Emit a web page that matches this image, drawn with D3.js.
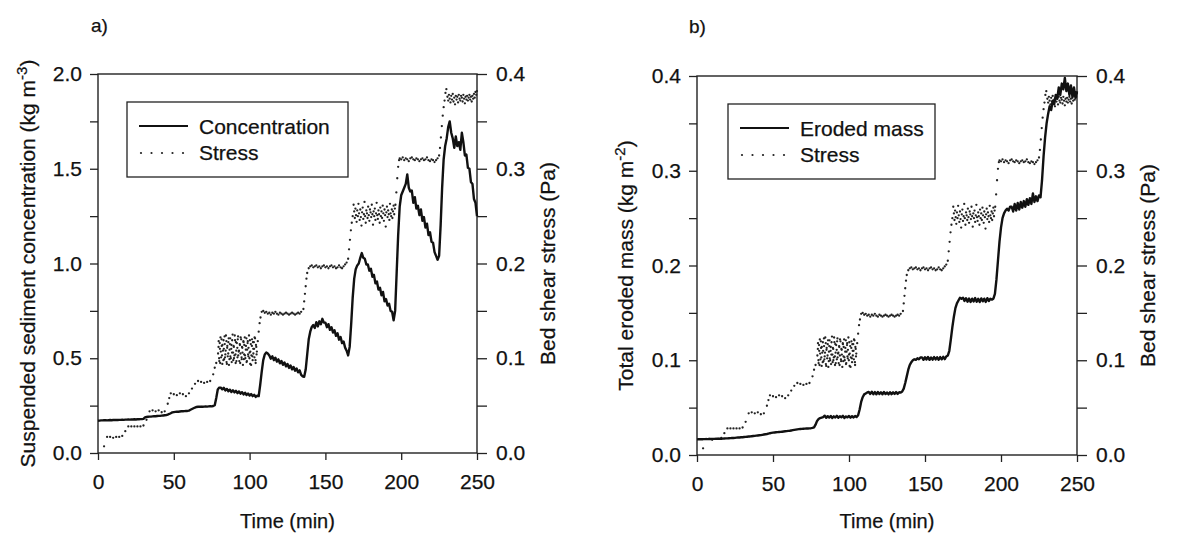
<!DOCTYPE html>
<html lang="en">
<head>
    <meta charset="utf-8">
    <title>erosion_run</title>
    <script src="https://d3js.org/d3.v7.min.js"></script>
    <style type="text/css">
        body { margin: 0; background: #fff; }
        text { font-family: "Liberation Sans", Arial, Helvetica, sans-serif; fill: #111; stroke: #111; stroke-width: 0.25px; }
    </style>
</head>
<body>
<script type="text/javascript">

    // Values. Concentration and eroded mass are one value per minute (index = time).
    var timeTicks = [0, 50, 100, 150, 200, 250];
    var concTicks = [0, 0.5, 1.0, 1.5, 2.0];
    var concMinor = [0.25, 0.75, 1.25, 1.75];
    var massTicks = [0, 0.1, 0.2, 0.3, 0.4];
    var massMinor = [0.05, 0.15, 0.25, 0.35];
    var stressTicks = [0, 0.1, 0.2, 0.3, 0.4];
    var stressMinor = [0.05, 0.15, 0.25, 0.35];

    // a) suspended sediment concentration (kg m-3), t = 0..250 min
    var concentration = [
        0.170,0.171,0.172,0.172,0.173,0.173,0.172,0.173,0.174,0.173,0.174,0.174,0.175,0.174,0.175,0.175,
        0.176,0.175,0.176,0.176,0.177,0.176,0.177,0.177,0.178,0.177,0.178,0.178,0.179,0.179,0.180,
        0.188,0.190,0.191,0.192,0.192,0.193,0.194,0.194,0.195,0.196,0.196,0.197,0.198,0.199,0.200,
        0.203,0.206,0.210,0.214,0.216,0.217,0.218,0.218,0.219,0.220,0.220,0.221,0.222,0.222,0.224,
        0.228,0.232,0.236,0.240,0.243,0.244,0.244,0.245,0.244,0.245,0.246,0.245,0.246,0.247,0.246,0.248,0.252,
        0.290,0.335,0.345,
        0.345,0.336,0.344,0.330,0.338,0.326,0.334,0.322,0.331,0.320,0.328,0.316,0.325,0.313,0.321,0.309,
        0.318,0.306,0.314,0.303,0.311,0.300,0.307,0.296,0.302,
        0.300,0.360,0.430,0.490,0.520,0.530,0.525,
        0.515,0.498,0.510,0.490,0.503,0.482,0.494,0.473,0.486,0.465,0.478,0.457,0.470,0.449,0.462,0.441,
        0.454,0.434,0.446,0.426,0.436,0.412,0.405,
        0.402,0.440,0.520,0.600,0.640,0.665,0.675,0.660,0.690,0.668,0.695,0.680,0.708,0.688,
        0.688,0.664,0.680,0.650,0.664,0.636,0.648,0.618,0.632,0.598,0.612,0.580,0.588,0.556,0.540,0.515,
        0.560,0.680,0.820,0.920,0.970,0.990,1.000,1.030,1.055,1.030,1.025,0.995,
        0.995,0.962,0.972,0.930,0.940,0.895,0.905,0.862,0.872,0.832,0.850,0.800,0.812,0.778,0.788,0.750,0.745,0.700,
        0.750,0.950,1.150,1.300,1.360,1.380,1.400,1.420,1.470,1.400,1.380,
        1.385,1.320,1.350,1.290,1.305,1.255,1.285,1.225,1.245,1.190,1.210,1.150,1.165,1.115,1.110,1.060,1.040,1.020,
        1.040,1.200,1.400,1.550,1.620,1.660,1.720,1.750,1.690,1.660,1.610,1.670,1.620,1.640,1.600,1.690,
        1.640,1.570,1.575,1.505,1.500,1.430,1.420,1.340,1.320,1.250
    ];

    // b) total eroded mass (kg m-2), t = 0..250 min
    var erodedMass = [
        0.0165,0.0166,0.0166,0.0167,0.0167,0.0168,0.0168,0.0168,0.0169,0.0169,0.0170,0.0170,0.0170,0.0171,0.0171,0.0172,
        0.0172,0.0173,0.0174,0.0175,0.0176,0.0177,0.0178,0.0179,0.0180,0.0181,0.0183,0.0184,0.0185,0.0187,0.0188,0.0190,
        0.0191,0.0193,0.0195,0.0196,0.0198,0.0200,0.0202,0.0204,0.0206,0.0208,0.0210,0.0213,0.0216,0.0219,0.0222,0.0226,
        0.0230,0.0233,0.0236,
        0.0238,0.0240,0.0241,0.0243,0.0244,0.0246,0.0248,0.0250,0.0252,0.0254,0.0256,0.0259,0.0262,0.0265,0.0268,0.0271,
        0.0273,0.0275,0.0276,0.0277,0.0278,0.0279,0.0280,0.0281,0.0283,0.0286,0.0292,
        0.032,0.036,0.038,0.039,0.0395,
        0.0400,0.0415,0.0392,0.0410,0.0395,0.0412,0.0390,0.0408,0.0396,0.0414,0.0393,0.0409,0.0398,0.0413,0.0391,0.0407,
        0.0397,0.0412,0.0394,0.0410,0.0396,0.0411,0.0400,
        0.042,0.048,0.056,0.061,0.064,0.065,0.066,
        0.0665,0.0645,0.0668,0.0642,0.0664,0.0640,0.0666,0.0644,0.0662,0.0641,0.0665,0.0643,0.0660,0.0640,0.0663,0.0642,
        0.0661,0.0644,0.0664,0.0645,0.0662,0.0658,0.0670,
        0.070,0.076,0.083,0.090,0.095,0.098,0.100,0.101,0.1005,0.102,0.101,0.103,
        0.1030,0.1005,0.1032,0.1008,0.1035,0.1004,0.1030,0.1006,0.1034,0.1009,0.1031,0.1005,0.1033,0.1010,0.1036,0.1012,
        0.1040,0.1050,
        0.110,0.122,0.135,0.146,0.155,0.160,0.163,0.166,0.165,
        0.1660,0.1625,0.1655,0.1618,0.1652,0.1615,0.1650,0.1620,0.1656,0.1617,0.1648,0.1614,0.1653,0.1622,0.1650,0.1616,
        0.1655,0.1625,0.1650,0.1640,0.1650,
        0.170,0.185,0.205,0.225,0.240,0.250,0.255,0.258,0.260,0.258,0.262,
        0.262,0.257,0.265,0.258,0.266,0.259,0.267,0.261,0.268,0.262,0.270,0.264,0.271,0.265,0.276,0.267,0.273,0.268,0.274,0.272,
        0.290,0.315,0.335,0.350,0.360,0.368,0.364,0.374,0.370,0.380,0.376,0.388,0.380,0.392,0.386,0.398,
        0.384,0.392,0.380,0.390,0.378,0.388,0.377,0.384
    ];

    // bed shear stress (Pa) as [time (min), value]; same run is plotted in both panels
    var stress = [
        [4,0.007],
        [6,0.017],[8,0.017],[10,0.016],[12,0.017],[14,0.017],[16,0.018],
        [18,0.023],
        [20,0.028],[22,0.028],[24,0.028],[26,0.028],[28,0.028],[30,0.029],
        [32,0.035],
        [34,0.044],[36,0.045],[38,0.044],[40,0.045],[42,0.043],[44,0.044],
        [46,0.052],[47,0.058],
        [48,0.063],[50,0.062],[52,0.061],[54,0.063],[56,0.062],[58,0.060],[60,0.063],
        [62,0.068],[64,0.073],[66,0.076],[68,0.075],[70,0.074],[72,0.075],[74,0.076],
        [76,0.083],[77,0.090],[78,0.095],
        [79.2,0.105],[79.6,0.118],[80.0,0.097],[80.4,0.110],[80.8,0.122],[81.2,0.101],[81.6,0.113],[82.0,0.094],
        [82.4,0.108],[82.8,0.119],[83.2,0.099],[83.6,0.115],[84.0,0.104],[84.4,0.124],[84.8,0.096],[85.2,0.111],
        [85.6,0.102],[86.0,0.117],[86.4,0.093],[86.8,0.109],[87.2,0.121],[87.6,0.100],[88.0,0.114],[88.4,0.106],
        [88.8,0.125],[89.2,0.098],[89.6,0.112],[90.0,0.103],[90.4,0.119],[90.8,0.095],[91.2,0.108],[91.6,0.116],
        [92.0,0.101],[92.4,0.123],[92.8,0.107],[93.2,0.097],[93.6,0.114],[94.0,0.105],[94.4,0.120],[94.8,0.099],
        [95.2,0.111],[95.6,0.093],[96.0,0.117],[96.4,0.104],[96.8,0.122],[97.2,0.100],[97.6,0.113],[98.0,0.096],
        [98.4,0.109],[98.8,0.118],[99.2,0.102],[99.6,0.124],[100.0,0.106],[100.4,0.094],[100.8,0.115],[101.2,0.103],
        [101.6,0.120],[102.0,0.098],[102.4,0.110],[102.8,0.117],[103.2,0.101],[103.6,0.121],[104.0,0.095],[104.4,0.112],
        [104.8,0.107],
        [79.5,0.112],[79.9,0.100],[80.3,0.116],[80.6,0.095],[81.0,0.107],[81.5,0.120],[81.8,0.103],[82.1,0.114],
        [82.7,0.098],[83.0,0.110],[83.5,0.123],[83.8,0.101],[84.2,0.108],[84.7,0.118],[85.0,0.094],[85.3,0.113],
        [85.9,0.105],[86.2,0.121],[86.7,0.099],[87.0,0.115],[87.3,0.102],[87.9,0.110],[88.2,0.096],[88.5,0.119],
        [89.1,0.106],[89.4,0.113],[89.7,0.100],[90.2,0.124],[90.7,0.104],[91.0,0.117],[91.3,0.097],[91.9,0.111],
        [92.2,0.120],[92.5,0.103],[93.0,0.108],[93.5,0.115],[93.8,0.095],[94.1,0.122],[94.7,0.101],[95.0,0.112],
        [95.3,0.106],[95.9,0.118],[96.2,0.099],[96.5,0.114],[97.0,0.103],[97.5,0.109],[97.9,0.121],[98.2,0.097],
        [98.7,0.116],[99.0,0.104],[99.3,0.111],[99.9,0.100],[100.2,0.119],[100.5,0.107],[101.0,0.093],[101.5,0.113],
        [101.9,0.102],[102.2,0.117],[102.5,0.105],[103.0,0.110],[103.3,0.122],[103.9,0.098],[104.2,0.114],[104.6,0.104],
        [105.4,0.118],[106,0.128],[106.6,0.137],[107.2,0.143],
        [108,0.149],[109,0.150],[110,0.148],[111,0.149],[112,0.147],[113,0.148],[114,0.146],[115,0.148],[116,0.147],
        [117,0.149],[118,0.147],[119,0.146],[120,0.148],[121,0.147],[122,0.146],[123,0.147],[124,0.148],[125,0.147],
        [126,0.146],[127,0.147],[128,0.148],[129,0.147],[130,0.146],[131,0.147],[132,0.148],[133,0.147],[134,0.149],
        [135.5,0.152],[136,0.160],[136.5,0.168],[137,0.176],[137.5,0.184],[138,0.190],[139,0.195],
        [140,0.197],[141,0.198],[142,0.196],[143,0.197],[144,0.198],[145,0.196],[146,0.197],[147,0.195],[148,0.197],
        [149,0.198],[150,0.196],[151,0.197],[152,0.195],[153,0.197],[154,0.198],[155,0.196],[156,0.197],[157,0.195],
        [158,0.196],[159,0.198],[160,0.196],[161,0.195],[162,0.197],[163,0.199],[164,0.201],
        [165,0.205],[165.6,0.215],[166.2,0.225],[166.8,0.235],[167.4,0.243],[168,0.250],
        [168.6,0.262],[169.0,0.255],[169.4,0.248],[169.8,0.258],[170.2,0.251],[170.6,0.244],[171.0,0.256],[171.4,0.250],
        [171.8,0.263],[172.2,0.253],[172.6,0.246],[173.0,0.257],[173.4,0.249],[173.8,0.240],[174.2,0.254],[174.6,0.259],
        [175.0,0.247],[175.4,0.252],[175.8,0.265],[176.2,0.250],[176.6,0.243],[177.0,0.256],[177.4,0.253],[177.8,0.248],
        [178.2,0.260],[178.6,0.251],[179.0,0.245],[179.4,0.257],[179.8,0.254],[180.2,0.249],[180.6,0.262],[181.0,0.252],
        [181.4,0.241],[181.8,0.255],[182.2,0.250],[182.6,0.258],[183.0,0.246],[183.4,0.253],[183.8,0.264],[184.2,0.251],
        [184.6,0.247],[185.0,0.256],[185.4,0.252],[185.8,0.243],[186.2,0.259],[186.6,0.250],[187.0,0.255],[187.4,0.248],
        [187.8,0.261],[188.2,0.253],[188.6,0.245],[189.0,0.257],[189.4,0.251],[189.8,0.239],[190.2,0.254],[190.6,0.260],
        [191.0,0.249],[191.4,0.256],[191.8,0.252],[192.2,0.246],[192.6,0.263],[193.0,0.253],[193.4,0.250],[193.8,0.257],
        [194.2,0.248],[194.6,0.255],[195.0,0.261],[195.4,0.252],[195.8,0.258],
        [196.2,0.262],[196.8,0.275],[197.4,0.290],[198,0.302],[198.6,0.309],
        [199,0.311],[200,0.310],[201,0.312],[202,0.309],[203,0.311],[204,0.310],[205,0.308],[206,0.311],[207,0.312],
        [208,0.310],[209,0.309],[210,0.311],[211,0.310],[212,0.308],[213,0.310],[214,0.311],[215,0.309],[216,0.310],
        [217,0.312],[218,0.309],[219,0.308],[220,0.310],[221,0.309],[222,0.307],[223,0.309],[224,0.311],[225,0.314],
        [225.6,0.322],[226.2,0.333],[226.8,0.345],[227.4,0.356],[228,0.365],[228.6,0.372],[229.2,0.380],[229.8,0.384],
        [230.5,0.376],[231,0.372],[231.5,0.378],[232,0.374],[232.5,0.370],[233,0.377],[233.5,0.373],[234,0.379],
        [234.5,0.371],[235,0.375],[235.5,0.368],[236,0.377],[236.5,0.373],[237,0.376],[237.5,0.370],[238,0.378],
        [238.5,0.374],[239,0.372],[239.5,0.377],[240,0.375],[240.5,0.371],[241,0.378],[241.5,0.374],[242,0.369],
        [242.5,0.376],[243,0.373],[243.5,0.377],[244,0.372],[244.5,0.375],[245,0.378],[245.5,0.373],[246,0.376],
        [246.5,0.371],[247,0.377],[247.5,0.374],[248,0.379],[248.5,0.375],[249,0.381],[249.5,0.378],[250,0.382]
    ];

    var svg = d3.select("body")
        .append("svg")
        .attr("width", 1186)
        .attr("height", 544);

    var panels = [
        {
            tag: "a)", tagX: 91, tagY: 32,
            left: 98, right: 477, top: 74, bottom: 453,
            leftDomain: [0, 2.0], leftTicks: concTicks, leftMinor: concMinor,
            leftTitle: "Suspended sediment concentration (kg m", leftSup: "-3", leftTitleX: 28,
            rightTitleX: 548,
            series: concentration, seriesName: "Concentration",
            legend: { x: 127, y: 102, w: 221, h: 75 }
        },
        {
            tag: "b)", tagX: 689, tagY: 33,
            left: 697, right: 1077, top: 76, bottom: 455,
            leftDomain: [0, 0.4], leftTicks: massTicks, leftMinor: massMinor,
            leftTitle: "Total eroded mass (kg m", leftSup: "-2", leftTitleX: 626,
            rightTitleX: 1148,
            series: erodedMass, seriesName: "Eroded mass",
            legend: { x: 728, y: 104, w: 207, h: 75 }
        }
    ];

    function styleAxis(g, size) {
        g.select(".domain").remove();
        g.selectAll("line").attr("stroke", "#222").attr("stroke-width", 1.3);
        g.selectAll("text")
            .attr("font-family", "Liberation Sans, Arial, sans-serif")
            .attr("font-size", size)
            .attr("fill", "#111");
    }

    panels.forEach(function (p) {
        var x = d3.scaleLinear().domain([0, 250]).range([p.left, p.right]);
        var yL = d3.scaleLinear().domain(p.leftDomain).range([p.bottom, p.top]);
        var yR = d3.scaleLinear().domain([0, 0.4]).range([p.bottom, p.top]);
        var fmt = d3.format(".1f");

        // bottom axis
        svg.append("g")
            .attr("transform", "translate(0," + p.bottom + ")")
            .call(d3.axisBottom(x).tickValues(timeTicks).tickSize(7).tickPadding(14).tickFormat(d3.format("d")))
            .call(styleAxis, 21);

        // left axis, labelled and minor ticks
        svg.append("g")
            .attr("transform", "translate(" + p.left + ",0)")
            .call(d3.axisLeft(yL).tickValues(p.leftTicks).tickSize(8).tickPadding(8).tickFormat(fmt))
            .call(styleAxis, 21);
        svg.append("g")
            .attr("transform", "translate(" + p.left + ",0)")
            .call(d3.axisLeft(yL).tickValues(p.leftMinor).tickSize(8).tickFormat(""))
            .call(styleAxis, 21);

        // right axis (stress)
        svg.append("g")
            .attr("transform", "translate(" + p.right + ",0)")
            .call(d3.axisRight(yR).tickValues(stressTicks).tickSize(10).tickPadding(9).tickFormat(fmt))
            .call(styleAxis, 21);
        svg.append("g")
            .attr("transform", "translate(" + p.right + ",0)")
            .call(d3.axisRight(yR).tickValues(stressMinor).tickSize(10).tickFormat(""))
            .call(styleAxis, 21);

        // frame
        svg.append("rect")
            .attr("x", p.left)
            .attr("y", p.top)
            .attr("width", p.right - p.left)
            .attr("height", p.bottom - p.top)
            .attr("fill", "none")
            .attr("stroke", "#222")
            .attr("stroke-width", 1.4);

        // stress dots
        svg.append("g")
            .selectAll("circle")
            .data(stress)
            .enter()
            .append("circle")
            .attr("cx", d => x(d[0]))
            .attr("cy", d => yR(d[1]))
            .attr("r", 1.15)
            .attr("fill", "#222");

        // main series
        var line = d3.line()
            .x((d, i) => x(i))
            .y(d => yL(d));
        svg.append("path")
            .datum(p.series)
            .attr("d", line)
            .attr("fill", "none")
            .attr("stroke", "#111")
            .attr("stroke-width", 2.4)
            .attr("stroke-linejoin", "round");

        // legend
        var lg = p.legend;
        svg.append("rect")
            .attr("x", lg.x).attr("y", lg.y)
            .attr("width", lg.w).attr("height", lg.h)
            .attr("fill", "#fff")
            .attr("stroke", "#222")
            .attr("stroke-width", 1.3);
        svg.append("line")
            .attr("x1", lg.x + 12).attr("x2", lg.x + 61)
            .attr("y1", lg.y + 24).attr("y2", lg.y + 24)
            .attr("stroke", "#111").attr("stroke-width", 2.2);
        svg.append("g")
            .selectAll("circle")
            .data([0, 1, 2, 3, 4])
            .enter()
            .append("circle")
            .attr("cx", d => lg.x + 14 + d * 10.5)
            .attr("cy", lg.y + 51)
            .attr("r", 1.1)
            .attr("fill", "#222");
        svg.append("text")
            .attr("x", lg.x + 72).attr("y", lg.y + 32)
            .attr("font-size", 21)
            .text(p.seriesName);
        svg.append("text")
            .attr("x", lg.x + 72).attr("y", lg.y + 58)
            .attr("font-size", 21)
            .text("Stress");

        // titles
        var midY = (p.top + p.bottom) / 2;
        svg.append("text")
            .attr("x", (p.left + p.right) / 2).attr("y", 528)
            .attr("text-anchor", "middle")
            .attr("font-size", 20)
            .text("Time (min)");

        var lt = svg.append("text")
            .attr("transform", "translate(" + (p.leftTitleX + 7) + "," + midY + ") rotate(-90)")
            .attr("text-anchor", "middle")
            .attr("font-size", 21);
        lt.append("tspan").text(p.leftTitle);
        lt.append("tspan").attr("baseline-shift", "super").attr("font-size", 15).text(p.leftSup);
        lt.append("tspan").text(")");

        svg.append("text")
            .attr("transform", "translate(" + (p.rightTitleX + 7) + "," + midY + ") rotate(-90)")
            .attr("text-anchor", "middle")
            .attr("font-size", 21)
            .text("Bed shear stress (Pa)");

        svg.append("text")
            .attr("x", p.tagX).attr("y", p.tagY)
            .attr("font-size", 19)
            .text(p.tag);
    });

</script>
</body>
</html>
